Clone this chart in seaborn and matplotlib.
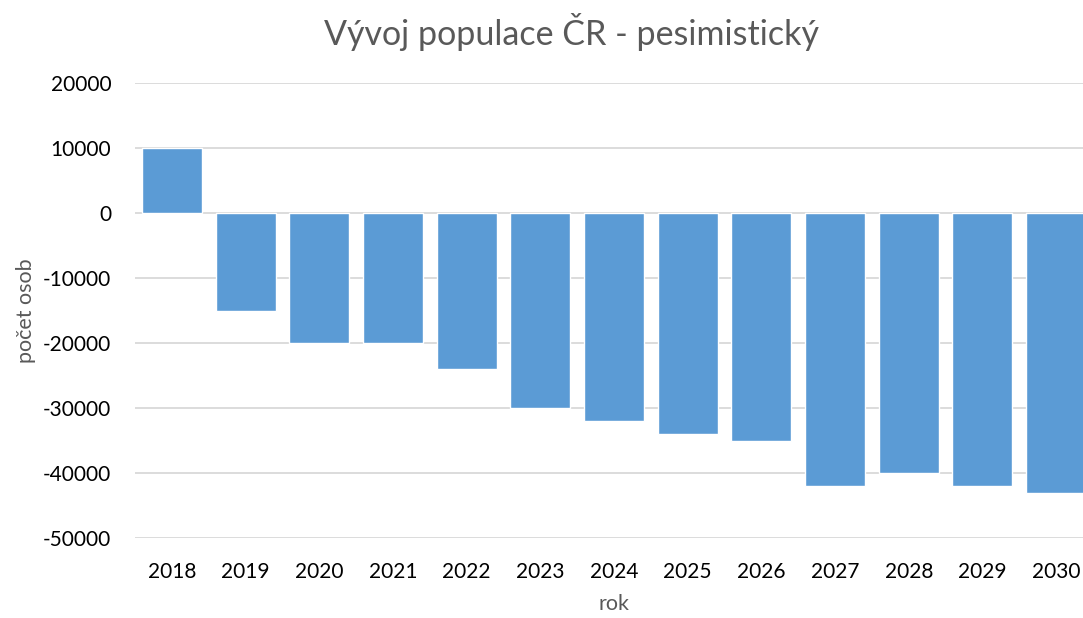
import numpy as np
import pandas as pd
import matplotlib
matplotlib.use("Agg")
import matplotlib.pyplot as plt
import seaborn as sns

# data
years = ["2018", "2019", "2020", "2021", "2022", "2023", "2024",
         "2025", "2026", "2027", "2028", "2029", "2030"]
change = [10000, -15000, -20000, -20000, -24000, -30000, -32000,
          -34000, -35000, -42000, -40000, -42000, -43000]
y_ticks = [-50000, -40000, -30000, -20000, -10000, 0, 10000, 20000]

df = pd.DataFrame({"rok": years, "osob": change})

sns.set_theme(style="white")
plt.rcParams["font.family"] = ["Lato", "DejaVu Sans"]

fig = plt.figure(figsize=(10.83, 6.18), dpi=100)
ax = fig.add_axes([135 / 1083, 1 - 538 / 618, (1093 - 135) / 1083, (538 - 83) / 618])

sns.barplot(data=df, x="rok", y="osob", color="#5B9BD5", saturation=1,
            width=0.815, ax=ax, zorder=3)

ax.set_ylim(-50000, 20000)
ax.set_xlim(-0.5, len(years) - 0.5)
ax.set_yticks(y_ticks)
ax.set_yticklabels([str(t) for t in y_ticks])
ax.yaxis.grid(True, color="#d9d9d9", linewidth=1.3, zorder=0)
ax.set_axisbelow(True)
for s in ax.spines.values():
    s.set_visible(False)

ax.tick_params(axis="both", length=0, labelsize=15, labelcolor="#000000")
ax.tick_params(axis="y", pad=17)
ax.tick_params(axis="x", pad=17)

ax.set_xlabel("rok", fontsize=15.5, color="#595959", labelpad=9)
ax.set_ylabel("počet osob", fontsize=15.5, color="#595959", labelpad=5)
fig.text(572 / 1083, 1 - 32 / 618, "Vývoj populace ČR - pesimistický",
         fontsize=24.5, color="#595959", ha="center", va="center")

fig.savefig("out.png", dpi=100)
